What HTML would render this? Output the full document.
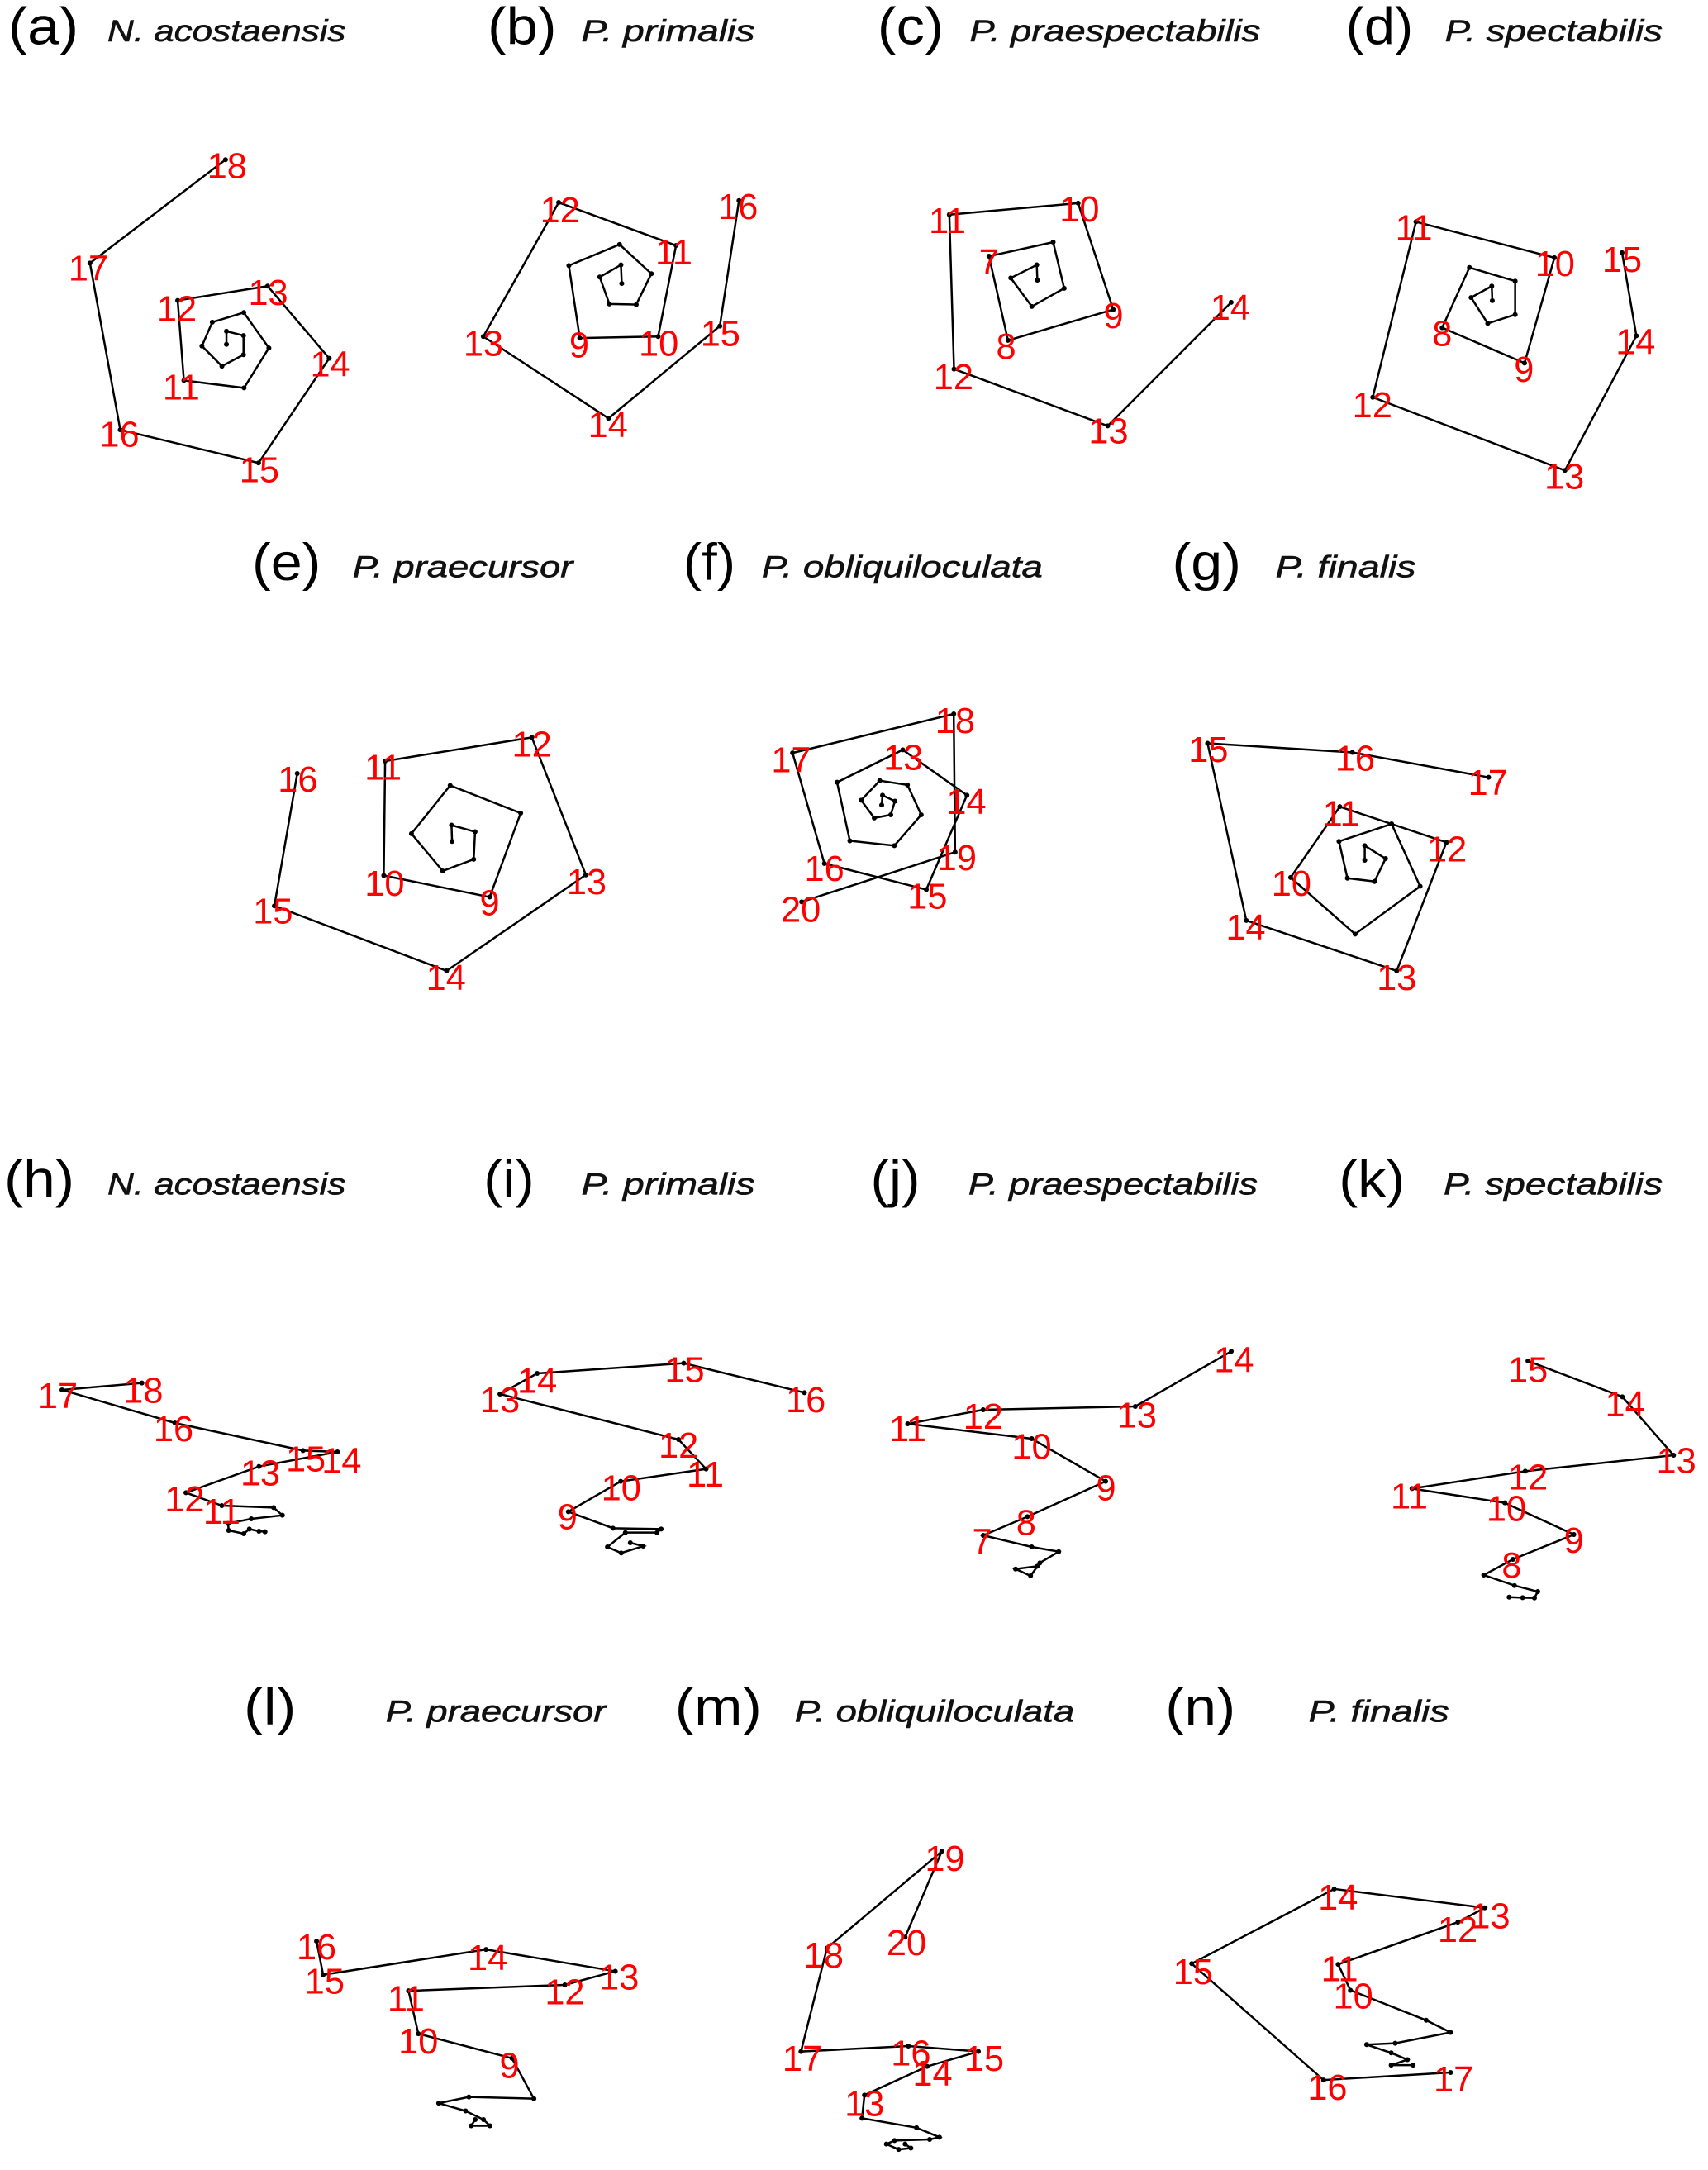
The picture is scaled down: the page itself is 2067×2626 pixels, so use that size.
<!DOCTYPE html>
<html>
<head>
<meta charset="utf-8">
<style>
html,body{margin:0;padding:0;background:#fff;}
svg{display:block;}
.ln{fill:none;stroke:#000;stroke-width:1.5;stroke-linejoin:miter;marker-start:url(#dt);marker-mid:url(#dt);marker-end:url(#dt);}
.lb{font-family:"Liberation Sans",Arial,sans-serif;font-size:26px;fill:#ff0000;text-anchor:middle;}
.tt{font-family:"Liberation Sans",Arial,sans-serif;font-size:38px;fill:#000;}
.sp{font-family:"Liberation Sans",Arial,sans-serif;font-size:22px;font-style:italic;fill:#111;stroke:#111;stroke-width:0.35;}
</style>
</head>
<body>
<svg width="2067" height="2626" viewBox="0 0 1240 1575.3" preserveAspectRatio="none" xmlns="http://www.w3.org/2000/svg">
<defs>
<marker id="dt" markerWidth="4" markerHeight="4" refX="2" refY="2" markerUnits="userSpaceOnUse"><circle cx="2" cy="2" r="1.8" fill="#000"/></marker>
</defs>
<rect x="0" y="0" width="1240" height="1575.3" fill="#fff"/>

<!-- Titles row 1 -->
<text class="tt" x="6" y="32" textLength="51" lengthAdjust="spacingAndGlyphs">(a)</text>
<text class="sp" x="78" y="30" textLength="173" lengthAdjust="spacingAndGlyphs">N. acostaensis</text>
<text class="tt" x="354" y="32" textLength="50" lengthAdjust="spacingAndGlyphs">(b)</text>
<text class="sp" x="422" y="30" textLength="126" lengthAdjust="spacingAndGlyphs">P. primalis</text>
<text class="tt" x="637" y="32" textLength="48" lengthAdjust="spacingAndGlyphs">(c)</text>
<text class="sp" x="704" y="30" textLength="211" lengthAdjust="spacingAndGlyphs">P. praespectabilis</text>
<text class="tt" x="977" y="32" textLength="49" lengthAdjust="spacingAndGlyphs">(d)</text>
<text class="sp" x="1049" y="30" textLength="158" lengthAdjust="spacingAndGlyphs">P. spectabilis</text>

<!-- Titles row 2 -->
<text class="tt" x="183" y="421" textLength="50" lengthAdjust="spacingAndGlyphs">(e)</text>
<text class="sp" x="256" y="419" textLength="160" lengthAdjust="spacingAndGlyphs">P. praecursor</text>
<text class="tt" x="496" y="421" textLength="38" lengthAdjust="spacingAndGlyphs">(f)</text>
<text class="sp" x="553" y="419" textLength="204" lengthAdjust="spacingAndGlyphs">P. obliquiloculata</text>
<text class="tt" x="851" y="421" textLength="50" lengthAdjust="spacingAndGlyphs">(g)</text>
<text class="sp" x="926" y="419" textLength="102" lengthAdjust="spacingAndGlyphs">P. finalis</text>

<!-- Titles row 3 -->
<text class="tt" x="3" y="869" textLength="51" lengthAdjust="spacingAndGlyphs">(h)</text>
<text class="sp" x="78" y="867" textLength="173" lengthAdjust="spacingAndGlyphs">N. acostaensis</text>
<text class="tt" x="351" y="869" textLength="37" lengthAdjust="spacingAndGlyphs">(i)</text>
<text class="sp" x="422" y="867" textLength="126" lengthAdjust="spacingAndGlyphs">P. primalis</text>
<text class="tt" x="632" y="869" textLength="36" lengthAdjust="spacingAndGlyphs">(j)</text>
<text class="sp" x="703" y="867" textLength="210" lengthAdjust="spacingAndGlyphs">P. praespectabilis</text>
<text class="tt" x="972" y="869" textLength="48" lengthAdjust="spacingAndGlyphs">(k)</text>
<text class="sp" x="1048" y="867" textLength="159" lengthAdjust="spacingAndGlyphs">P. spectabilis</text>

<!-- Titles row 4 -->
<text class="tt" x="177" y="1252" textLength="38" lengthAdjust="spacingAndGlyphs">(l)</text>
<text class="sp" x="280" y="1250" textLength="160" lengthAdjust="spacingAndGlyphs">P. praecursor</text>
<text class="tt" x="490" y="1252" textLength="63" lengthAdjust="spacingAndGlyphs">(m)</text>
<text class="sp" x="577" y="1250" textLength="203" lengthAdjust="spacingAndGlyphs">P. obliquiloculata</text>
<text class="tt" x="846" y="1252" textLength="51" lengthAdjust="spacingAndGlyphs">(n)</text>
<text class="sp" x="950" y="1250" textLength="102" lengthAdjust="spacingAndGlyphs">P. finalis</text>

<!-- (a) -->
<polyline class="ln" points="164.4,250 164.4,240.5 176.8,243.6 176.8,257.5 161.1,265.8 146.6,251.2 154.1,233.9 177,226.9 195.2,252.6 177.2,281.6 133.5,276.2 129,218.1 194.3,207.7 239,260.1 187.7,336.1 87.3,312 65.3,191 163.7,115.9"/>
<g class="lb">
<text x="164.8" y="129.4">18</text><text x="64.2" y="203.7">17</text><text x="128.4" y="233.2">12</text><text x="194.7" y="221.4">13</text>
<text x="239.7" y="273.3">14</text><text x="131.6" y="289.9">11</text><text x="86.7" y="324.1">16</text><text x="188.3" y="350">15</text>
</g>

<!-- (b) -->
<polyline class="ln" points="451.4,205.8 450.8,192.3 435.4,201.1 442.4,220.7 461.9,221.1 472.9,198.7 449.8,177.5 413,192.8 420.9,245.4 477.8,244.3 490.8,178.2 405.6,147 350.9,244.3 441.8,303.7 522.6,236.7 536.5,145.6"/>
<g class="lb">
<text x="406.6" y="161.4">12</text><text x="489.2" y="192.1">11</text><text x="535.9" y="159.1">16</text><text x="350.9" y="258.2">13</text>
<text x="420.5" y="259.4">9</text><text x="478.2" y="258.2">10</text><text x="523" y="251.1">15</text><text x="441.4" y="317.2">14</text>
</g>

<!-- (c) -->
<polyline class="ln" points="753.1,203.4 752.7,192.3 733.8,201.8 749.1,222.5 772.6,209.3 764.6,175.8 718,186 731.8,247.1 808.2,224.7 782.7,147.5 689.2,155.8 692.6,267.9 804.2,309.2 893.8,219.5"/>
<g class="lb">
<text x="687.8" y="169.2">11</text><text x="783.7" y="160.9">10</text><text x="718" y="199.2">7</text><text x="808.4" y="238.2">9</text>
<text x="730.4" y="260.5">8</text><text x="692.2" y="282.5">12</text><text x="804.8" y="321.9">13</text><text x="893.2" y="232.2">14</text>
</g>

<!-- (d) -->
<polyline class="ln" points="1083.4,218.3 1083,207.7 1068,216 1080.1,234.8 1100,228.4 1100,204.1 1066.8,194.2 1047,237.9 1106.8,263.6 1128.5,187.1 1028,161 996.6,288.4 1136.1,341.5 1188,243.8 1177.6,183.4"/>
<g class="lb">
<text x="1026.5" y="174.4">11</text><text x="1128.9" y="200.4">10</text><text x="1177.6" y="197.3">15</text><text x="1047" y="251.2">8</text>
<text x="1106.4" y="277.1">9</text><text x="1187.4" y="257">14</text><text x="996.3" y="303">12</text><text x="1135.7" y="354.9">13</text>
</g>

<!-- (e) -->
<polyline class="ln" points="328.2,610.8 327.8,599 344.9,603.8 343.9,623.8 321.4,632.3 298.7,605.2 326.8,570.2 378,590.3 355.5,651.2 278.6,635.6 279.6,552.5 386.1,535.3 425.3,635.1 324.2,704.8 199.2,657.6 215.8,561.5"/>
<g class="lb">
<text x="278.1" y="566">11</text><text x="386.1" y="549.2">12</text><text x="216.2" y="574.7">16</text><text x="279.2" y="650.2">10</text>
<text x="355.5" y="664.4">9</text><text x="425.9" y="649.1">13</text><text x="198.2" y="670.3">15</text><text x="323.8" y="718.7">14</text>
</g>

<!-- (f) -->
<polyline class="ln" points="640.1,584.4 640.7,577.3 649.7,581.6 646.7,591.5 634.7,593.8 625.2,580.9 638.7,566.7 658.8,569.8 668.8,591.5 649.3,613.9 617,610.4 607.7,567.9 655.4,544.3 702,577.3 672.5,645.8 598.5,626.9 575.4,546.6 692.4,518.3 693.4,618.6 582,654.7"/>
<g class="lb">
<text x="693.4" y="532.2">18</text><text x="574.4" y="560.6">17</text><text x="655.8" y="558.7">13</text><text x="701.6" y="590.8">14</text>
<text x="694.6" y="631.8">19</text><text x="598.5" y="639.6">16</text><text x="673.3" y="659.7">15</text><text x="581.4" y="669.1">20</text>
</g>

<!-- (g) -->
<polyline class="ln" points="990.8,624.5 990.8,613.9 1005.9,623.3 997.9,639.9 978.2,637.5 972.1,610.8 1010.3,598.1 1031,643.4 983.8,678.1 937,637 972.7,585.6 1050.1,611.5 1014,704.8 904.8,668.2 876.7,539.6 981.8,546.2 1080.7,564.3"/>
<g class="lb">
<text x="877.3" y="553">15</text><text x="983.8" y="559.4">16</text><text x="1080.3" y="577.1">17</text><text x="973.7" y="599.5">11</text>
<text x="1050.5" y="625.5">12</text><text x="937.6" y="650.2">10</text><text x="904.4" y="682.1">14</text><text x="1014" y="718.7">13</text>
</g>

<!-- (h) -->
<polyline class="ln" points="192.4,1112 188,1111.6 181,1110 177,1113.4 166,1111 165.6,1106 182.4,1102.6 205,1100 198.6,1094.4 161,1093 135,1083.6 188,1064.6 245,1054 220,1053 127,1033 45,1009 103,1004"/>
<g class="lb">
<text x="42" y="1022.2">17</text><text x="104" y="1018.2">18</text><text x="126" y="1046.2">16</text><text x="222" y="1068.2">15</text>
<text x="248" y="1069.2">14</text><text x="189" y="1078.2">13</text><text x="134" y="1097.2">12</text><text x="161" y="1106.2">11</text>
</g>

<!-- (i) -->
<polyline class="ln" points="457.6,1120 467,1122.4 451,1127.4 441,1123 454,1112.6 477,1112.6 480,1110 445,1109.4 412.6,1097.4 450.6,1075.4 512.6,1066.4 492.6,1045 363,1012 390,997 496.4,989.6 584,1011"/>
<g class="lb">
<text x="497" y="1003.2">15</text><text x="390" y="1011.2">14</text><text x="363" y="1025.2">13</text><text x="585" y="1025.2">16</text>
<text x="492.6" y="1058.2">12</text><text x="512" y="1079.2">11</text><text x="451" y="1089.2">10</text><text x="412" y="1110.2">9</text>
</g>

<!-- (j) -->
<polyline class="ln" points="753,1137 737.3,1139 748.2,1144 754.9,1134.6 768.6,1126.4 749,1123 713.8,1114.6 745.9,1101 802.7,1075.4 749,1044.4 659,1033.6 713.8,1023.4 824.2,1021 893.9,981"/>
<g class="lb">
<text x="895.9" y="996.2">14</text><text x="825.4" y="1036.2">13</text><text x="713.8" y="1037.2">12</text><text x="659" y="1046.2">11</text>
<text x="749" y="1059.2">10</text><text x="803" y="1089.2">9</text><text x="745" y="1114.2">8</text><text x="713" y="1128.2">7</text>
</g>

<!-- (k) -->
<polyline class="ln" points="1095.6,1159.4 1105.4,1159.8 1114,1160 1116.4,1155.4 1099.5,1151 1077.2,1143.4 1098.3,1132 1142.6,1114 1092.5,1091 1025.1,1080.6 1107.3,1068 1215,1056.4 1177.8,1014 1109.3,988"/>
<g class="lb">
<text x="1109.3" y="1003.2">15</text><text x="1179.8" y="1028.2">14</text><text x="1217" y="1069.2">13</text><text x="1109.3" y="1081.2">12</text>
<text x="1023.1" y="1095.2">11</text><text x="1093.6" y="1104.2">10</text><text x="1142.6" y="1127.2">9</text><text x="1097.5" y="1145.2">8</text>
</g>

<!-- (l) -->
<polyline class="ln" points="345,1538.7 342.1,1543.2 355.7,1543.2 351,1538.7 338,1532.4 318.5,1526.8 340.4,1522.3 387.6,1523.5 371.7,1494.2 303.7,1476.4 296.6,1445.2 410.1,1440.9 446.7,1431 352.8,1415.2 234.6,1433.6 229.8,1409.2"/>
<g class="lb">
<text x="229.8" y="1422.4">16</text><text x="235.7" y="1447.1">15</text><text x="354" y="1430.2">14</text><text x="449.5" y="1444.2">13</text>
<text x="410" y="1455">12</text><text x="294.8" y="1459.9">11</text><text x="303.7" y="1490.6">10</text><text x="369.9" y="1508.4">9</text>
</g>

<!-- (m) -->
<polyline class="ln" points="657.1,1556.5 661.3,1559.4 652.4,1560.4 643.5,1556.5 649.4,1553.9 674.9,1553.1 682,1551.5 665.4,1544.6 625.8,1537.7 627.6,1520.9 673.1,1500.1 710.3,1489.3 659.5,1485.3 581.5,1489.3 600.4,1414.2 683.7,1344 657.1,1406.3"/>
<g class="lb">
<text x="686" y="1358.2">19</text><text x="658.1" y="1419.4">20</text><text x="598" y="1428.3">18</text><text x="582.5" y="1503.4">17</text>
<text x="661.3" y="1499.5">16</text><text x="714.5" y="1503.4">15</text><text x="677" y="1514.2">14</text><text x="627.6" y="1536">13</text>
</g>

<!-- (n) -->
<polyline class="ln" points="1025.9,1499.2 1010,1499.2 1021.8,1495.2 1010,1490.3 992.2,1484.3 1012.9,1483.3 1053.1,1475.4 1035.4,1466.6 980.4,1444.8 971.5,1426 1058.4,1395.4 1077.9,1385 968.6,1371.3 865.2,1425.5 960.9,1510 1053.1,1504.5"/>
<g class="lb">
<text x="971.4" y="1386.4">14</text><text x="1081.9" y="1399.7">13</text><text x="1058.2" y="1409.6">12</text><text x="972.5" y="1438.2">11</text>
<text x="982.4" y="1458">10</text><text x="866.2" y="1440.2">15</text><text x="963.7" y="1524.2">16</text><text x="1055.3" y="1518.2">17</text>
</g>
</svg>
</body>
</html>
